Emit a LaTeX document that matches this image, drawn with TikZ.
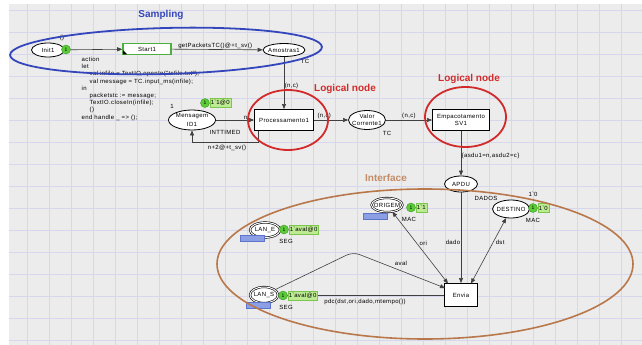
\documentclass[tikz,border=0pt]{standalone}
\usepackage{fontspec}
\setmainfont{Liberation Sans}
\newfontfamily\cpnfont[LetterSpace=6]{Liberation Sans}
\newcommand\cpn{\cpnfont\fontsize{6}{7}\selectfont}
\newcommand\cpnsmall{\cpnfont\fontsize{5}{6}\selectfont}
\newcommand\notefont{\fontsize{10}{12}\selectfont\bfseries}
\newcommand\zw[1]{\makebox[0pt]{#1}}
\usetikzlibrary{arrows.meta,shapes.geometric,calc}
\definecolor{bgray}{HTML}{ECECEC}
\definecolor{gridc}{HTML}{D6D6EE}
\definecolor{tokgreen}{HTML}{5CCB3A}
\definecolor{tokdark}{HTML}{3C9A22}
\definecolor{boxgreen}{HTML}{BDEB93}
\definecolor{boxdark}{HTML}{7CC64E}
\definecolor{tagblue}{HTML}{8C9FE4}
\definecolor{tagdark}{HTML}{5E74CC}
\definecolor{sampblue}{HTML}{3446BC}
\definecolor{logred}{HTML}{D22A2A}
\definecolor{intbrown}{HTML}{B8784C}
\definecolor{startgreen}{HTML}{4CB040}
\begin{document}
\begin{tikzpicture}[x=1pt,y=-1pt,
  every node/.style={font=\cpn},
  place/.style={ellipse,draw=black,line width=0.8pt,fill=white,inner sep=0pt},
  fplace/.style={ellipse,draw=black,line width=0.6pt,double=white,double distance=1pt,fill=white,inner sep=0pt},
  trans/.style={rectangle,draw=black,line width=1pt,fill=white,inner sep=0pt,align=center},
  arc/.style={draw=black!75,line width=0.6pt,-{Triangle[length=5pt,width=4pt]}},
  barc/.style={draw=black!75,line width=0.6pt,{Triangle[length=5pt,width=4pt]}-{Triangle[length=5pt,width=4pt]}},
  lbl/.style={inner sep=0.5pt},
  token/.style={circle,fill=tokgreen,draw=tokdark,line width=0.4pt,inner sep=0pt,minimum size=9pt,font=\cpnsmall},
  tokbox/.style={rectangle,fill=boxgreen,draw=boxdark,line width=0.5pt,inner sep=1.2pt,minimum height=9pt,anchor=west},
  tagbox/.style={rectangle,fill=tagblue,draw=tagdark,line width=0.4pt,minimum width=24pt,minimum height=6pt,inner sep=0pt},
  note/.style={font=\notefont,inner sep=0pt}
]
\useasboundingbox (0,0) rectangle (642,345);
% background and grid
\fill[white] (0,0) rectangle (642,345);
\fill[bgray] (9,4) rectangle (642,345);
\foreach \gx in {27,49,...,641} \draw[gridc,line width=0.5pt] (\gx,4) -- (\gx,345);
\foreach \gy in {10,32,...,344} \draw[gridc,line width=0.5pt] (9,\gy) -- (642,\gy);

% code segment text
\node[lbl,anchor=north west,align=left,font=\cpnfont\fontsize{6}{7.2}\selectfont] (code) at (81,56.5)
 {action\\let\\\hspace*{8pt}val infile = TextIO.openIn("tcfile.txt");\\\hspace*{8pt}val message = TC.input\_ms(infile);\\in\\\hspace*{8pt}packetstc := message;\\\hspace*{8pt}TextIO.closeIn(infile);\\\hspace*{8pt}()\\end handle \_ => ();};

% places and transitions
\node[place,minimum width=33pt,minimum height=14pt] (init) at (48,50) {\zw{Init1}};
\node[trans,draw=startgreen,line width=1.6pt,minimum width=48pt,minimum height=11pt] (start) at (147,49) {Start1};
\node[place,minimum width=42pt,minimum height=13pt] (amo) at (284,50) {\zw{Amostras1}};
\node[place,minimum width=47pt,minimum height=20pt] (msg) at (192,120) {\zw{\shortstack{Mensagem\\ID1}}};
\node[trans,minimum width=59pt,minimum height=21pt] (proc) at (284,120) {Processamento1};
\node[place,minimum width=37pt,minimum height=19pt] (valor) at (367,120) {\zw{\shortstack{Valor\\Corrente1}}};
\node[trans,minimum width=57pt,minimum height=21pt] (emp) at (461,120) {Empacotamento\\SV1};
\node[place,minimum width=33pt,minimum height=16pt] (apdu) at (461,184) {\zw{APDU}};
\node[fplace,minimum width=31pt,minimum height=14pt] (orig) at (387,205) {\zw{ORIGEM}};
\node[place,minimum width=37pt,minimum height=18pt] (dest) at (511,209) {\zw{DESTINO}};
\node[fplace,minimum width=30pt,minimum height=15pt] (lane) at (265,230) {\zw{LAN\_E}};
\node[fplace,minimum width=28pt,minimum height=16pt] (lans) at (264,295) {\zw{LAN\_S}};
\node[trans,minimum width=33pt,minimum height=23pt] (envia) at (461,295) {Envia};
\fill[black] ([shift={(1,-1)}]start.south west) -- ++(4,0) -- ++(-4,-4) -- cycle;

% arcs
\draw[arc] (init) -- (start);
\draw[arc] (start) -- node[lbl,above,xshift=-2pt] (lgp) {getPacketsTC()@+t\_sv()} (amo);
\draw[arc] (amo) -- node[lbl,right,pos=0.55] (lnc1) {(n,c)} (proc);
\draw[arc] (msg) -- node[lbl,above,pos=0.78] (ln) {n} (proc);
\coordinate (retc) at (192,142);
\draw[arc] ([xshift=4pt]proc.south west) |- (retc) -- (msg);
\node[lbl] (lret) at (227,148) {n+2@+t\_sv()};
\node[lbl] (lint) at (225,132) {INTTIMED};
\draw[arc] (proc) -- node[lbl,above,pos=0.3] (lnc2) {(n,c)} (valor);
\draw[arc] (valor) -- node[lbl,above,pos=0.5] (lnc3) {(n,c)} (emp);
\draw[arc] (emp) -- node[lbl,right,pos=0.55] (lasdu) {\{asdu1=n,asdu2=c\}} (apdu);
\draw[arc] (apdu) -- node[lbl,left,pos=0.55] (ldado) {dado} (envia);
\coordinate (eo) at (448,283.5);
\coordinate (ed) at (471,283.5);
\draw[barc] (orig) -- node[lbl,pos=0.45,xshift=6pt,yshift=1pt] (lori) {ori} (eo);
\draw[barc] (dest) -- node[lbl,pos=0.37,xshift=7pt] (ldst) {dst} (ed);
\coordinate (bend) at (353,252);
\coordinate (ea) at (445,288);
\draw[arc,rounded corners=7pt] (lans) -- (bend) -- (ea);
\node[lbl] (laval) at (401,263) {aval};
\draw[arc] (envia) -- (lans);
\node[lbl] (lpdc) at (365,301.5) {pdc(dst,ori,dado,mtempo())};

% inscriptions
\node[lbl] (iinit) at (62,38) {()};
\node[lbl] (tcamo) at (305,61) {TC};
\node[lbl] (imsg) at (172,106) {1};
\node[lbl] (tcval) at (387,133) {TC};
\node[lbl] (ldados) at (486,198) {DADOS};
\node[lbl] (macor) at (409,219.5) {MAC};
\node[lbl] (macde) at (533,220.5) {MAC};
\node[lbl] (ide) at (533,194.5) {1\textasciigrave 0};
\node[lbl] (sege) at (286,241.5) {SEG};
\node[lbl] (segs) at (286,307.5) {SEG};

% tokens and markings
\node[token] (t1) at (66,49.5) {1};
\node[token] (t2) at (205,103) {1};
\node[tokbox] (m2) at (209.5,103) {1\textasciigrave 1@0};
\node[token] (t3) at (411,207.5) {1};
\node[tokbox] (m3) at (415.5,207.5) {1\textasciigrave 1};
\node[token] (t4) at (533,208) {1};
\node[tokbox] (m4) at (537.5,208) {1\textasciigrave 0};
\node[token] (t5) at (284,229.5) {1};
\node[tokbox] (m5) at (288.5,229.5) {1\textasciigrave aval@0};
\node[token] (t6) at (283,295.5) {1};
\node[tokbox] (m6) at (287.5,295.5) {1\textasciigrave aval@0};

% fusion tags
\node[tagbox] (g1) at (375,216) {};
\node[tagbox] (g2) at (252.5,238) {};
\node[tagbox] (g3) at (258.5,305.5) {};

% annotation ellipses and titles
\draw[sampblue,line width=1.8pt,rotate around={1.5:(166,51)}] (166,51) ellipse [x radius=156pt,y radius=23pt];
\draw[logred,line width=1.8pt] (288,120) ellipse [x radius=40pt,y radius=30pt];
\draw[logred,line width=1.8pt] (465.5,117) ellipse [x radius=40.5pt,y radius=30pt];
\draw[intbrown,line width=1.6pt] (425,264) ellipse [x radius=208pt,y radius=75pt];
\node[note,text=sampblue] (tsamp) at (161,14.5) {Sampling};
\node[note,text=logred] (tlog1) at (345,89) {Logical node};
\node[note,text=logred] (tlog2) at (469,79) {Logical node};
\node[note,text=intbrown!85!white] (tint) at (386,178) {Interface};
\end{tikzpicture}
\end{document}
